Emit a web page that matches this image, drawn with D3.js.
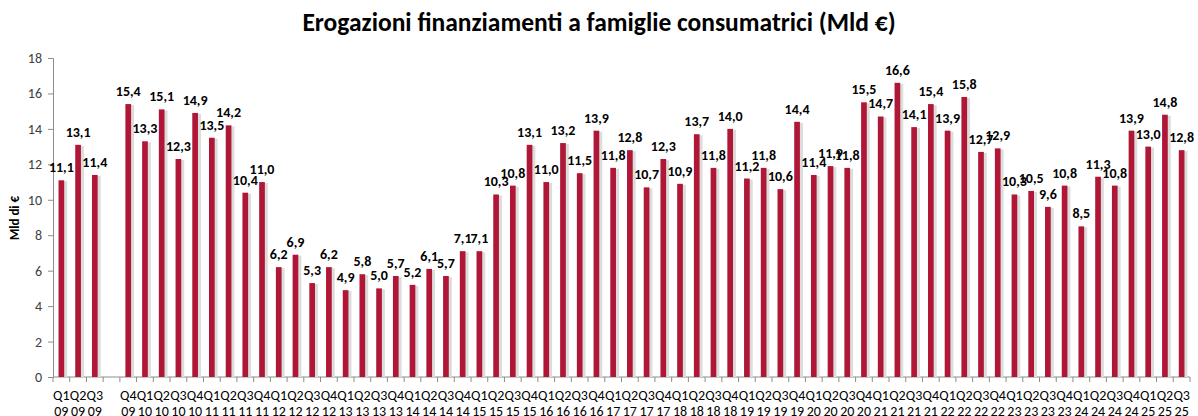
<!DOCTYPE html>
<html>
<head>
<meta charset="utf-8">
<script src="https://cdn.jsdelivr.net/npm/d3@7"></script>
<style>
  body { margin: 0; background: #fff; }
  text { font-family: Carlito, Lato, "Open Sans", sans-serif; }
</style>
</head>
<body>
<div class="chart"></div>
<script>
// Erogazioni finanziamenti a famiglie consumatrici

var quarters = ["Q1","Q2","Q3","","Q4",
  "Q1","Q2","Q3","Q4", "Q1","Q2","Q3","Q4", "Q1","Q2","Q3","Q4",
  "Q1","Q2","Q3","Q4", "Q1","Q2","Q3","Q4", "Q1","Q2","Q3","Q4",
  "Q1","Q2","Q3","Q4", "Q1","Q2","Q3","Q4", "Q1","Q2","Q3","Q4",
  "Q1","Q2","Q3","Q4", "Q1","Q2","Q3","Q4", "Q1","Q2","Q3","Q4",
  "Q1","Q2","Q3","Q4", "Q1","Q2","Q3","Q4", "Q1","Q2","Q3","Q4",
  "Q1","Q2","Q3"];

var years = ["09","09","09","","09",
  "10","10","10","10", "11","11","11","11", "12","12","12","12",
  "13","13","13","13", "14","14","14","14", "15","15","15","15",
  "16","16","16","16", "17","17","17","17", "18","18","18","18",
  "19","19","19","19", "20","20","20","20", "21","21","21","21",
  "22","22","22","22", "23","23","23","23", "24","24","24","24",
  "25","25","25"];

var values = [11.1, 13.1, 11.4, null, 15.4,
  13.3, 15.1, 12.3, 14.9,  13.5, 14.2, 10.4, 11.0,  6.2, 6.9, 5.3, 6.2,
  4.9, 5.8, 5.0, 5.7,  5.2, 6.1, 5.7, 7.1,  7.1, 10.3, 10.8, 13.1,
  11.0, 13.2, 11.5, 13.9,  11.8, 12.8, 10.7, 12.3,  10.9, 13.7, 11.8, 14.0,
  11.2, 11.8, 10.6, 14.4,  11.4, 11.9, 11.8, 15.5,  14.7, 16.6, 14.1, 15.4,
  13.9, 15.8, 12.7, 12.9,  10.3, 10.5, 9.6, 10.8,  8.5, 11.3, 10.8, 13.9,
  13.0, 14.8, 12.8];

var yTicks = [0, 2, 4, 6, 8, 10, 12, 14, 16, 18];

var svgWidth = 1198;
var svgHeight = 416;

var margin = { top: 58, right: 8, bottom: 39, left: 53 };
var width = svgWidth - margin.left - margin.right;
var height = svgHeight - margin.top - margin.bottom;

var data = values.map(function(v, i) {
  return { key: i, value: v, q: quarters[i], y: years[i] };
});

var svg = d3.select(".chart")
  .append("svg")
  .attr("width", svgWidth)
  .attr("height", svgHeight);

var chartGroup = svg.append("g")
  .attr("transform", `translate(${margin.left}, ${margin.top})`);

var xScale = d3.scaleBand()
  .domain(data.map(d => d.key))
  .range([0, width])
  .paddingInner(0.66)
  .paddingOuter(0.33);

var yScale = d3.scaleLinear()
  .domain([0, 18])
  .range([height, 0]);

// title
svg.append("text")
  .attr("x", 599)
  .attr("y", 31)
  .attr("text-anchor", "middle")
  .style("font-size", "25.5px")
  .style("font-weight", "bold")
  .style("fill", "#000")
  .text("Erogazioni finanziamenti a famiglie consumatrici (Mld €)");

// y axis
var leftAxis = d3.axisLeft(yScale)
  .tickValues(yTicks)
  .tickSize(5)
  .tickPadding(6)
  .tickFormat(d3.format("d"));

var yAxis = chartGroup.append("g").call(leftAxis);
yAxis.select(".domain").attr("stroke", "#8c8c8c");
yAxis.selectAll(".tick line").attr("stroke", "#8c8c8c");
yAxis.selectAll(".tick text")
  .style("font-size", "14px")
  .style("fill", "#404040")
  .style("font-family", "Carlito, Lato, sans-serif");

svg.append("text")
  .attr("transform", "translate(19, 218) rotate(-90)")
  .attr("text-anchor", "middle")
  .style("font-size", "13px")
  .style("font-weight", "bold")
  .text("Mld di €");

// x axis line + ticks between categories
var step = xScale.step();
chartGroup.append("line")
  .attr("x1", 0).attr("x2", width)
  .attr("y1", height).attr("y2", height)
  .attr("stroke", "#8c8c8c");

var bounds = d3.range(data.length + 1).map(i => i * step);
chartGroup.selectAll(".xtick")
  .data(bounds)
  .enter()
  .append("line")
  .attr("class", "xtick")
  .attr("x1", d => d).attr("x2", d => d)
  .attr("y1", height).attr("y2", height + 5)
  .attr("stroke", "#8c8c8c");

// x labels (two lines)
var xLabels = chartGroup.selectAll(".xlabel")
  .data(data)
  .enter()
  .append("text")
  .attr("class", "xlabel")
  .attr("text-anchor", "middle")
  .style("font-size", "14px")
  .style("fill", "#000");

xLabels.append("tspan")
  .attr("x", d => xScale(d.key) + xScale.bandwidth() / 2)
  .attr("y", height + 23)
  .text(d => d.q);

xLabels.append("tspan")
  .attr("x", d => xScale(d.key) + xScale.bandwidth() / 2)
  .attr("y", height + 39)
  .text(d => d.y);

var barData = data.filter(d => d.value !== null);

// bar shadows
chartGroup.selectAll(".shadow")
  .data(barData)
  .enter()
  .append("rect")
  .attr("class", "shadow")
  .attr("x", d => xScale(d.key) + 2)
  .attr("y", d => yScale(d.value) + 1)
  .attr("width", xScale.bandwidth() + 1)
  .attr("height", d => height - yScale(d.value) - 1)
  .attr("fill", "#dcdcdc");

// bars
chartGroup.selectAll(".bar")
  .data(barData)
  .enter()
  .append("rect")
  .attr("class", "bar")
  .attr("x", d => xScale(d.key))
  .attr("y", d => yScale(d.value))
  .attr("width", xScale.bandwidth())
  .attr("height", d => height - yScale(d.value))
  .attr("fill", "#B01737");

// value labels
chartGroup.selectAll(".vlabel")
  .data(barData)
  .enter()
  .append("text")
  .attr("class", "vlabel")
  .attr("x", d => xScale(d.key) + xScale.bandwidth() / 2)
  .attr("y", d => yScale(d.value) - 8)
  .attr("text-anchor", "middle")
  .style("font-size", "14px")
  .style("font-weight", "bold")
  .style("fill", "#000")
  .text(d => d3.format(".1f")(d.value).replace(".", ","));
</script>
</body>
</html>
